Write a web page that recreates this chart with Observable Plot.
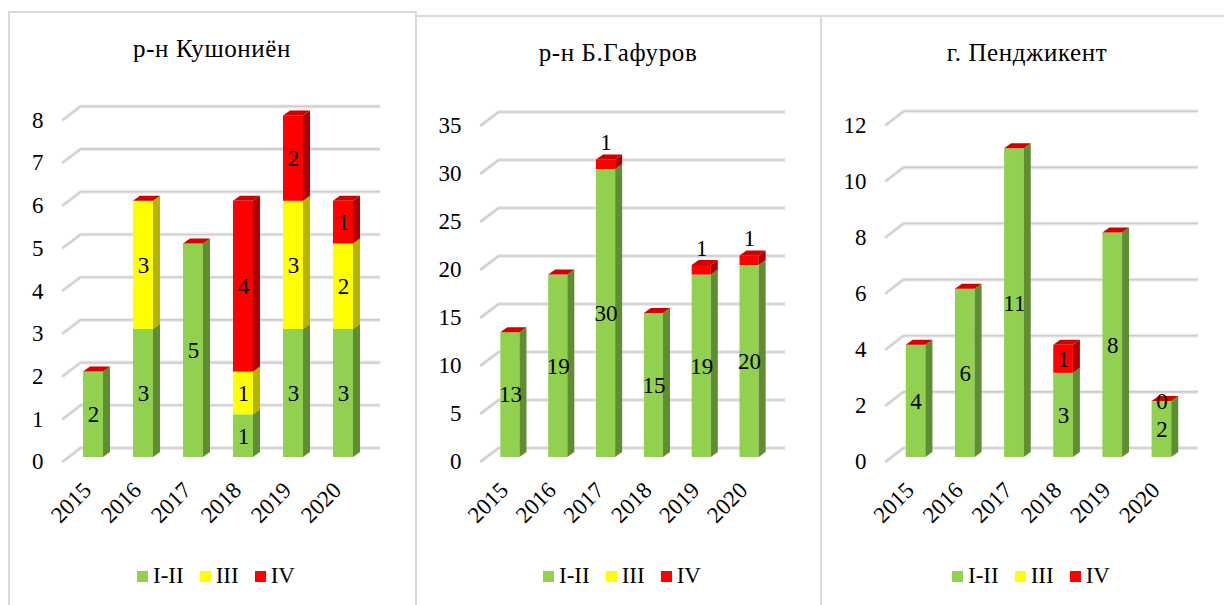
<!DOCTYPE html>
<html>
<head>
<meta charset="utf-8">
<script src="https://cdn.jsdelivr.net/npm/d3@7"></script>
<script src="https://cdn.jsdelivr.net/npm/@observablehq/plot@0.6"></script>
<style>
  body { margin: 0; background: #fff; }
  #chart { position: relative; width: 1224px; height: 605px; overflow: hidden;
           font-family: "Liberation Serif", "Times New Roman", Times, serif; color: #000; }
  .box { position: absolute; box-sizing: border-box; border: 2px solid #d9d9d9; height: 700px; }
  .title { position: absolute; width: 320px; text-align: center; font-size: 25px; line-height: 24px;
           letter-spacing: 0.6px; white-space: nowrap; }
  .legend { position: absolute; display: flex; font-size: 23px; line-height: 22px; white-space: nowrap; }
  .legend .item { display: flex; align-items: center; margin-right: 16px; }
  .legend .sw { width: 11px; height: 11px; margin-right: 5px; }
  .plot { position: absolute; top: 0; }
</style>
</head>
<body>
<div id="chart"></div>
<script>
// Categories and series names
const years = ["2015", "2016", "2017", "2018", "2019", "2020"];
const seriesNames = ["I-II", "III", "IV"];

// р-н Кушониён
const kushTitle = "р-н Кушониён";
const kushI_II = [2, 3, 5, 1, 3, 3];
const kushIII  = [null, 3, null, 1, 3, 2];
const kushIV   = [null, null, null, 4, 2, 1];
const kushTicks = [0, 1, 2, 3, 4, 5, 6, 7, 8];

// р-н Б.Гафуров
const gafTitle = "р-н Б.Гафуров";
const gafI_II = [13, 19, 30, 15, 19, 20];
const gafIII  = [null, null, null, null, null, null];
const gafIV   = [null, null, 1, null, 1, 1];
const gafTicks = [0, 5, 10, 15, 20, 25, 30, 35];

// г. Пенджикент
const penTitle = "г. Пенджикент";
const penI_II = [4, 6, 11, 3, 8, 2];
const penIII  = [null, null, null, null, null, null];
const penIV   = [null, null, null, 1, null, 0];
const penTicks = [0, 2, 4, 6, 8, 10, 12];

// Colours for the front, side and top faces of each series
const faceColor = {"I-II": "#92D050", "III": "#FFFF00", "IV": "#FF0000"};
const sideColor = {"I-II": "#5F8D32", "III": "#B4B400", "IV": "#AE0000"};
const topColor  = {"I-II": "#A8DC72", "III": "#E4E400", "IV": "#D20000"};

const FONT = "'Liberation Serif', 'Times New Roman', Times, serif";
const FS = 23;

const charts = [
  {title: kushTitle, values: [kushI_II, kushIII, kushIV], ticks: kushTicks, ivAbove: false},
  {title: gafTitle,  values: [gafI_II, gafIII, gafIV],    ticks: gafTicks,  ivAbove: true},
  {title: penTitle,  values: [penI_II, penIII, penIV],    ticks: penTicks,  ivAbove: false}
];

// Page layout of the three panels (pixels)
const layouts = [
  {left: 0,   width: 417, face: [68, 368],  base: 457, top: 115.4, box: [8, 11, 409],   titleX: 212,  titleY: 37, legendX: 137},
  {left: 417, width: 404, face: [486, 773], base: 457, top: 121,   box: [415, 15, 407], titleX: 618,  titleY: 41, legendX: 543},
  {left: 821, width: 403, face: [891, 1186], base: 457, top: 120.3, box: [820, 15, 420], titleX: 1027, titleY: 41, legendX: 952}
];

// 3-D look: depth of each column and of the back wall, in pixels
const DEPTH_X = 7, DEPTH_Y = 5;
const WALL_X = 12, WALL_Y = 9.5;
const FRONT_X = 6.3, FRONT_Y = 4.5;

function drawPanel(chart, lay) {
  const n = years.length;
  const ymax = chart.ticks[chart.ticks.length - 1];
  const ux = n / (lay.face[1] - lay.face[0]);   // data units per pixel, x
  const uy = ymax / (lay.base - lay.top);       // data units per pixel, y

  // stacked segments
  const segs = [];
  years.forEach((year, i) => {
    let cum = 0;
    seriesNames.forEach((s, k) => {
      const v = chart.values[k][i];
      const h = v == null ? 0 : v;
      segs.push({i, year, s, value: v, y0: cum, y1: cum + h, id: i + "-" + s});
      cum += h;
    });
  });
  const solid = segs.filter(d => d.y1 > d.y0);
  const tops = years.map((_, i) => segs.filter(d => d.i === i).at(-1));

  const sidePts = solid.flatMap(d => [
    {id: d.id, s: d.s, x: d.i + 0.7, y1: d.y0, y2: d.y1},
    {id: d.id, s: d.s, x: d.i + 0.7 + DEPTH_X * ux, y1: d.y0 + DEPTH_Y * uy, y2: d.y1 + DEPTH_Y * uy}
  ]);
  const capPts = tops.flatMap(d => [
    {id: d.id, s: d.s, y: d.y1, x1: d.i + 0.3, x2: d.i + 0.7},
    {id: d.id, s: d.s, y: d.y1 + DEPTH_Y * uy, x1: d.i + 0.3 + DEPTH_X * ux, x2: d.i + 0.7 + DEPTH_X * ux}
  ]);

  const labels = segs.filter(d => d.value != null);
  const inside = labels.filter(d => !(chart.ivAbove && d.s === "IV"));
  const above = labels.filter(d => chart.ivAbove && d.s === "IV");

  const grid = (stroke, strokeWidth) => [
    Plot.ruleY(chart.ticks, {x1: () => 0, x2: () => n, dx: WALL_X, dy: -WALL_Y, stroke, strokeWidth}),
    Plot.link(chart.ticks, {
      x1: () => -FRONT_X * ux, y1: d => d - FRONT_Y * uy,
      x2: () => WALL_X * ux, y2: d => d + WALL_Y * uy,
      stroke, strokeWidth
    })
  ];

  const svg = Plot.plot({
    width: lay.width,
    height: 540,
    style: {background: "none", overflow: "visible", fontFamily: FONT},
    x: {type: "linear", domain: [0, n], range: [lay.face[0] - lay.left, lay.face[1] - lay.left], axis: null},
    y: {type: "linear", domain: [0, ymax], range: [lay.base, lay.top], axis: null},
    color: {type: "identity"},
    marks: [
      ...grid("#ececec", 4),
      ...grid("#cdcdcd", 1.6),
      // front faces
      Plot.rect(solid, {x1: d => d.i + 0.3, x2: d => d.i + 0.7, y1: "y0", y2: "y1", fill: d => faceColor[d.s]}),
      // side faces
      Plot.area(sidePts, {x1: "x", y1: "y1", y2: "y2", z: "id", fill: d => sideColor[d.s], curve: "linear"}),
      // top faces
      Plot.area(capPts, {y1: "y", x1: "x1", x2: "x2", z: "id", fill: d => topColor[d.s], curve: "linear"}),
      // value axis labels
      Plot.text(chart.ticks, {x: () => 0, y: d => d, text: d => String(d), textAnchor: "end",
        dx: -25, dy: FRONT_Y, fontSize: FS, fontFamily: FONT}),
      // category labels
      Plot.text(years, {x: (d, i) => i + 0.5, y: () => 0, text: d => d, rotate: -45, textAnchor: "end",
        dx: -6, dy: 29, fontSize: FS, fontFamily: FONT}),
      // data labels
      Plot.text(inside, {x: d => d.i + 0.5, y: d => (d.y0 + d.y1) / 2, text: d => String(d.value),
        fontSize: FS, fontFamily: FONT}),
      Plot.text(above, {x: d => d.i + 0.5, y: "y1", text: d => String(d.value),
        dy: -17, fontSize: FS, fontFamily: FONT})
    ]
  });
  svg.classList.add("plot");
  svg.style.left = lay.left + "px";
  return svg;
}

const root = document.getElementById("chart");
charts.forEach((chart, k) => {
  const lay = layouts[k];
  root.appendChild(drawPanel(chart, lay));

  const box = document.createElement("div");
  box.className = "box";
  box.style.left = lay.box[0] + "px";
  box.style.top = lay.box[1] + "px";
  box.style.width = lay.box[2] + "px";
  root.appendChild(box);

  const title = document.createElement("div");
  title.className = "title";
  title.textContent = chart.title;
  title.style.left = (lay.titleX - 160) + "px";
  title.style.top = lay.titleY + "px";
  root.appendChild(title);

  const legend = document.createElement("div");
  legend.className = "legend";
  legend.style.left = lay.legendX + "px";
  legend.style.top = "565px";
  seriesNames.forEach(s => {
    const item = document.createElement("div");
    item.className = "item";
    const sw = document.createElement("span");
    sw.className = "sw";
    sw.style.background = faceColor[s];
    const label = document.createElement("span");
    label.textContent = s;
    item.appendChild(sw);
    item.appendChild(label);
    legend.appendChild(item);
  });
  root.appendChild(legend);
});
</script>
</body>
</html>
